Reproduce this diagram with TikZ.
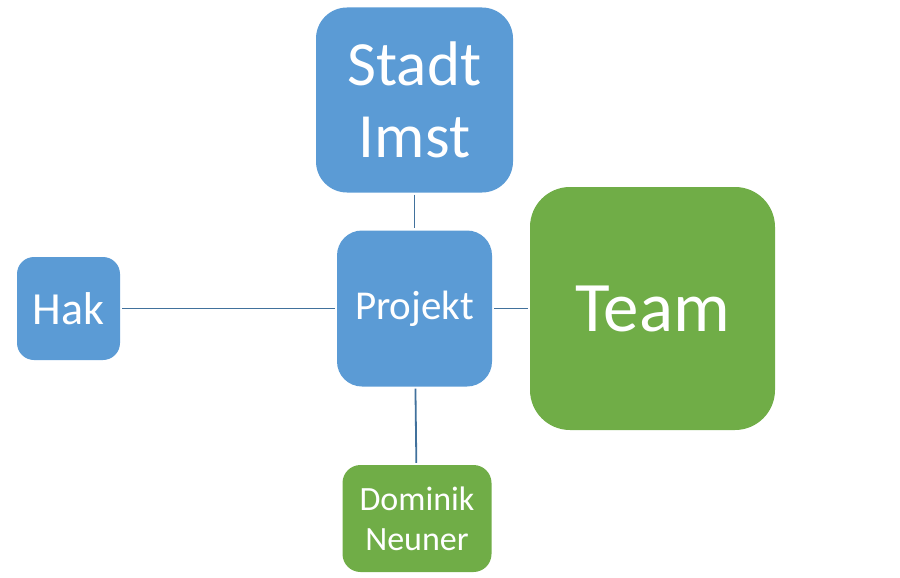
\documentclass[tikz,border=0pt]{standalone}
\usepackage{fontspec}
\setmainfont{Carlito}
\usetikzlibrary{positioning}
\definecolor{boxblue}{HTML}{5B9BD5}
\definecolor{boxgreen}{HTML}{70AD47}
\definecolor{linkblue}{HTML}{41719C}
\tikzset{
  bluebox/.style={fill=boxblue, text=white, inner sep=0pt, align=center},
  greenbox/.style={fill=boxgreen, text=white, inner sep=0pt, align=center},
  link/.style={draw=linkblue, line width=1.8pt, shorten <=2pt, shorten >=2pt}
}

\begin{document}
\begin{tikzpicture}[x=1pt, y=-1pt]
\useasboundingbox (0,0) rectangle (900,578);

\node (Stadt) [bluebox, minimum width=197pt, minimum height=185pt, rounded corners=31pt,
    font=\fontsize{63}{72}\selectfont] at (414.5,100) {Stadt\\Imst};
\node (Projekt) [bluebox, minimum width=155pt, minimum height=156pt, rounded corners=25pt,
    font=\fontsize{41}{48}\selectfont] at (414.5,308.5) {Projekt};
\node (Hak) [bluebox, minimum width=103pt, minimum height=103pt, rounded corners=17pt,
    font=\fontsize{46}{54}\selectfont] at (68.5,308.5) {Hak};
\node (Team) [greenbox, minimum width=245pt, minimum height=243pt, rounded corners=40pt,
    font=\fontsize{71}{83}\selectfont] at (652.5,308.5) {Team};
\node (Dominik) [greenbox, minimum width=149pt, minimum height=107pt, rounded corners=18pt,
    font=\fontsize{34}{40}\selectfont] at (417,518.5) {Dominik\\Neuner};

% connectors from the centre box
\draw[link] (Stadt) -- (Projekt);
\draw[link] (Hak) -- (Projekt);
\draw[link] (Projekt) -- (Team);
\draw[link] (Projekt) -- (Dominik);

\end{tikzpicture}
\end{document}
